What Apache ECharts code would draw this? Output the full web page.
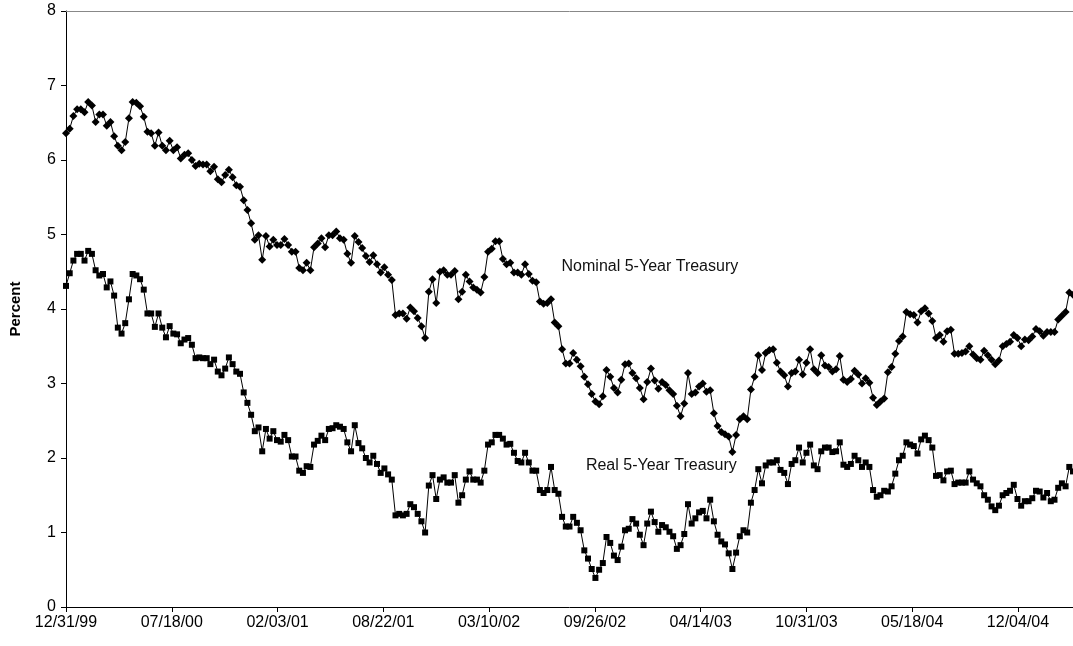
<!DOCTYPE html>
<html><head><meta charset="utf-8">
<script src="https://cdn.jsdelivr.net/npm/echarts@6/dist/echarts.min.js"></script>
<style>html,body{margin:0;padding:0;background:#fff}#c{width:1073px;height:646px}</style>
</head><body><div id="c"></div>
<script>
// Weekly observations starting 12/31/99 (x = days since 12/31/99)
const tickLabels = ['12/31/99','07/18/00','02/03/01','08/22/01','03/10/02','09/26/02','04/14/03','10/31/03','05/18/04','12/04/04'];
const tickDays = [0,200,400,600,800,1000,1200,1400,1600,1800];
const axisMaxDay = 1904;

const nominal = [
6.36,6.42,6.59,6.68,6.68,6.64,6.78,6.73,6.51,6.61,
6.61,6.46,6.51,6.32,6.19,6.13,6.24,6.56,6.78,6.77,
6.72,6.58,6.38,6.36,6.19,6.37,6.19,6.13,6.26,6.13,
6.17,6.02,6.07,6.09,6.00,5.92,5.95,5.94,5.94,5.85,
5.91,5.74,5.70,5.80,5.87,5.77,5.66,5.64,5.46,5.33,
5.15,4.93,4.99,4.66,4.98,4.84,4.93,4.86,4.86,4.94,
4.86,4.77,4.77,4.55,4.52,4.62,4.52,4.83,4.88,4.95,
4.83,4.99,4.99,5.04,4.95,4.93,4.74,4.62,4.98,4.90,
4.82,4.71,4.63,4.72,4.60,4.49,4.56,4.46,4.39,3.92,
3.94,3.94,3.87,4.02,3.97,3.88,3.77,3.61,4.23,4.40,
4.08,4.50,4.52,4.46,4.46,4.51,4.13,4.23,4.46,4.37,
4.29,4.26,4.22,4.43,4.77,4.81,4.91,4.91,4.67,4.60,
4.62,4.49,4.49,4.46,4.60,4.47,4.38,4.36,4.10,4.07,
4.08,4.13,3.82,3.77,3.46,3.27,3.27,3.41,3.32,3.23,
3.09,2.99,2.86,2.76,2.72,2.83,3.18,3.09,2.94,2.88,
3.05,3.26,3.27,3.14,3.07,2.94,2.79,3.02,3.20,3.04,
2.93,3.02,2.98,2.91,2.86,2.70,2.56,2.73,3.14,2.86,
2.88,2.96,3.00,2.89,2.91,2.60,2.43,2.35,2.32,2.29,
2.08,2.31,2.52,2.56,2.52,2.92,3.09,3.38,3.18,3.41,
3.45,3.46,3.28,3.16,3.11,2.96,3.14,3.16,3.32,3.12,
3.28,3.46,3.19,3.14,3.38,3.24,3.22,3.16,3.19,3.37,
3.05,3.02,3.06,3.17,3.12,3.00,3.07,3.01,2.81,2.71,
2.76,2.80,3.15,3.22,3.40,3.57,3.63,3.96,3.93,3.92,
3.82,3.97,4.01,3.94,3.84,3.61,3.65,3.56,3.70,3.72,
3.40,3.40,3.41,3.43,3.50,3.39,3.34,3.32,3.44,3.38,
3.32,3.26,3.31,3.50,3.53,3.56,3.65,3.61,3.50,3.59,
3.58,3.63,3.73,3.70,3.64,3.69,3.69,3.69,3.86,3.91,
3.96,4.22,4.19
];

const real = [
4.31,4.48,4.65,4.74,4.74,4.65,4.78,4.74,4.52,4.45,
4.47,4.29,4.37,4.18,3.75,3.67,3.81,4.13,4.47,4.45,
4.40,4.26,3.94,3.94,3.76,3.94,3.75,3.62,3.77,3.67,
3.66,3.54,3.59,3.61,3.52,3.34,3.35,3.34,3.34,3.26,
3.32,3.16,3.11,3.20,3.35,3.26,3.16,3.13,2.88,2.74,
2.58,2.36,2.41,2.09,2.39,2.26,2.36,2.24,2.22,2.31,
2.24,2.02,2.02,1.83,1.80,1.89,1.88,2.18,2.23,2.30,
2.24,2.39,2.40,2.44,2.42,2.39,2.21,2.09,2.44,2.20,
2.13,2.00,1.94,2.03,1.92,1.80,1.86,1.78,1.71,1.23,
1.25,1.23,1.25,1.38,1.34,1.25,1.15,1.00,1.63,1.77,
1.45,1.71,1.74,1.67,1.67,1.77,1.40,1.50,1.71,1.82,
1.71,1.71,1.67,1.83,2.18,2.21,2.31,2.31,2.26,2.18,
2.19,2.07,1.96,1.94,2.07,1.94,1.83,1.83,1.57,1.53,
1.57,1.88,1.57,1.52,1.21,1.08,1.08,1.21,1.13,1.03,
0.76,0.65,0.51,0.39,0.50,0.59,0.94,0.86,0.69,0.63,
0.81,1.03,1.05,1.18,1.12,0.97,0.83,1.12,1.28,1.14,
1.01,1.10,1.07,1.01,0.95,0.78,0.83,0.98,1.38,1.12,
1.19,1.27,1.29,1.19,1.44,1.15,0.97,0.88,0.84,0.72,
0.51,0.73,0.95,1.03,1.00,1.40,1.57,1.85,1.66,1.90,
1.94,1.94,1.97,1.84,1.80,1.65,1.92,1.97,2.14,1.94,
2.07,2.18,1.90,1.85,2.09,2.14,2.14,2.08,2.09,2.21,
1.91,1.88,1.92,2.03,1.97,1.88,1.94,1.88,1.57,1.48,
1.50,1.56,1.55,1.62,1.79,1.97,2.03,2.21,2.18,2.16,
2.06,2.25,2.30,2.24,2.14,1.76,1.77,1.70,1.82,1.83,
1.65,1.67,1.67,1.67,1.82,1.71,1.66,1.62,1.50,1.44,
1.35,1.30,1.36,1.50,1.53,1.56,1.64,1.45,1.36,1.42,
1.42,1.46,1.56,1.55,1.47,1.53,1.42,1.44,1.60,1.66,
1.62,1.88,1.82
];

const seriesNames = ['Nominal 5-Year Treasury', 'Real 5-Year Treasury'];

const xDays = nominal.map((_, i) => i * 7);
const FONT = '"Liberation Sans", Arial, sans-serif';

const chart = echarts.init(document.getElementById('c'), null, {renderer: 'canvas'});
chart.setOption({
  animation: false,
  backgroundColor: '#fff',
  grid: {left: 66, right: 0, top: 11, bottom: 39, containLabel: false, outerBoundsMode: 'none'},
  xAxis: [{
    type: 'value', min: 0, max: axisMaxDay,
    axisLine: {show: true, onZero: false, lineStyle: {color: '#000', width: 1}},
    axisTick: {show: true, length: 5, customValues: tickDays, lineStyle: {color: '#000'}},
    axisLabel: {customValues: tickDays, color: '#000', fontSize: 16, fontFamily: FONT, margin: 8,
      formatter: v => tickLabels[tickDays.indexOf(v)] || ''},
    splitLine: {show: false}
  }, {
    type: 'value', position: 'top', min: 0, max: axisMaxDay,
    axisLine: {show: true, onZero: false, lineStyle: {color: '#888', width: 1}},
    axisTick: {show: false}, axisLabel: {show: false}, splitLine: {show: false}
  }],
  yAxis: {
    type: 'value', min: 0, max: 8, interval: 1,
    name: 'Percent', nameLocation: 'middle', nameGap: 43, nameRotate: 90,
    nameTextStyle: {color: '#000', fontSize: 15, fontWeight: 'bold', fontFamily: FONT},
    axisLine: {show: true, lineStyle: {color: '#000', width: 1}},
    axisTick: {show: true, length: 5, lineStyle: {color: '#000'}},
    axisLabel: {color: '#000', fontSize: 16, fontFamily: FONT, margin: 10},
    splitLine: {show: false}
  },
  series: [{
    name: seriesNames[0], type: 'line',
    data: nominal.map((v, i) => [xDays[i], v]),
    symbol: 'diamond', symbolSize: 8, showAllSymbol: true,
    lineStyle: {color: '#000', width: 1}, itemStyle: {color: '#000'}
  }, {
    name: seriesNames[1], type: 'line',
    data: real.map((v, i) => [xDays[i], v]),
    symbol: 'rect', symbolSize: 6, showAllSymbol: true,
    lineStyle: {color: '#000', width: 1}, itemStyle: {color: '#000'}
  }]
});

const p1 = chart.convertToPixel({xAxisIndex: 0, yAxisIndex: 0}, [937, 4.57]);
const p2 = chart.convertToPixel({xAxisIndex: 0, yAxisIndex: 0}, [983, 1.90]);
chart.setOption({
  graphic: [
    {type: 'text', x: p1[0], y: p1[1], style: {text: seriesNames[0], fill: '#111', font: '16px ' + FONT, textVerticalAlign: 'middle', textAlign: 'left'}},
    {type: 'text', x: p2[0], y: p2[1], style: {text: seriesNames[1], fill: '#111', font: '16px ' + FONT, textVerticalAlign: 'middle', textAlign: 'left'}}
  ]
});
</script>
</body></html>
